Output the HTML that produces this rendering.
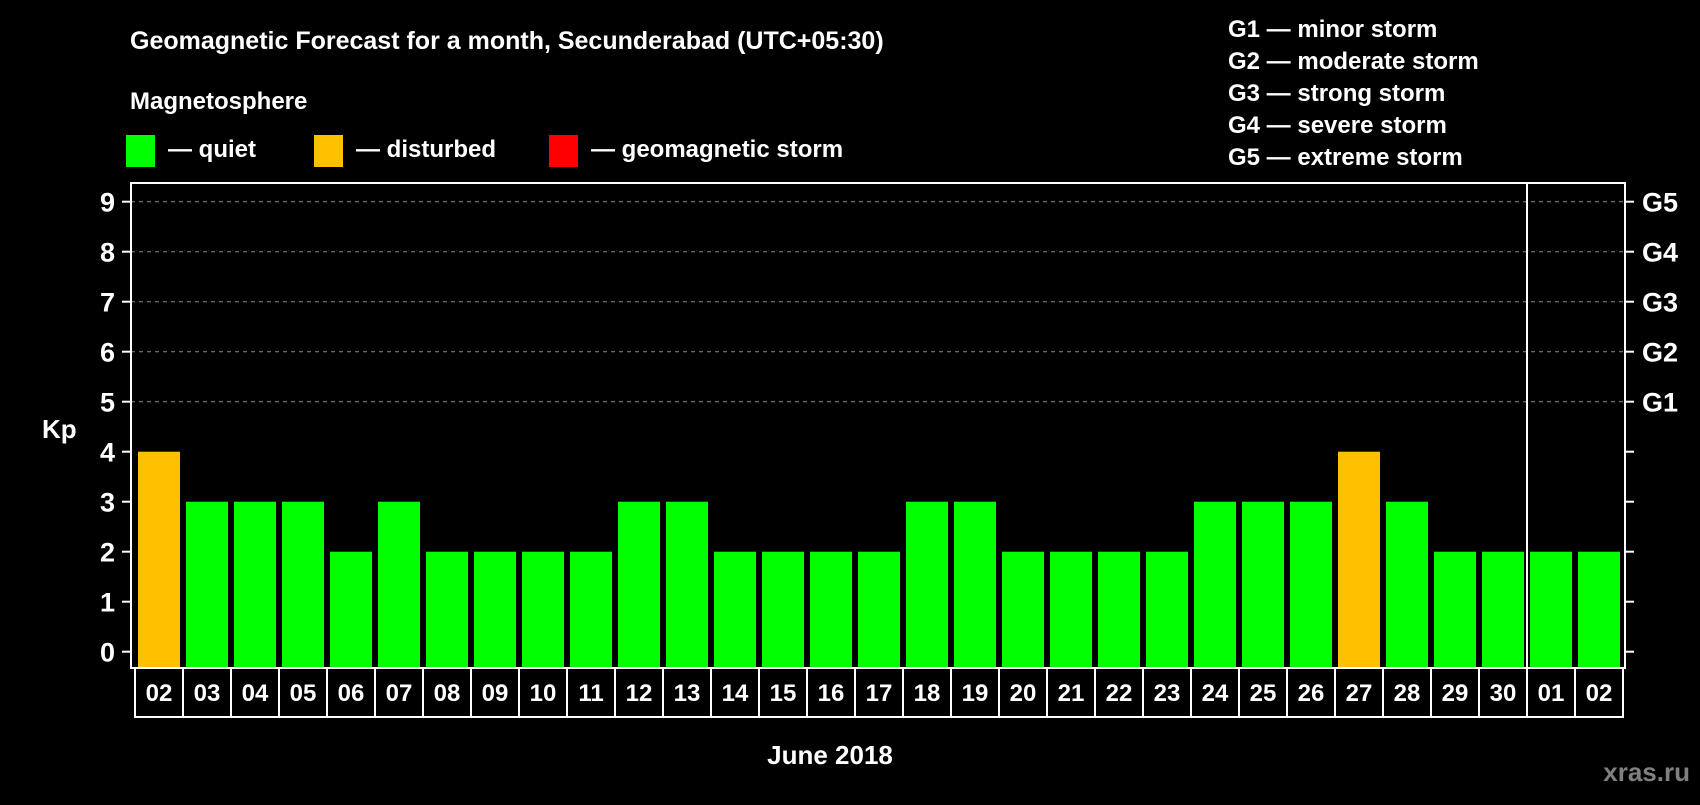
<!DOCTYPE html>
<html><head><meta charset="utf-8"><style>
html,body{margin:0;padding:0;background:#000;}
svg text{font-family:"Liberation Sans",sans-serif;font-weight:bold;fill:#fff;}
</style></head><body>
<svg id="chart" width="1700" height="800" viewBox="0 0 1700 800" xmlns="http://www.w3.org/2000/svg">
<rect width="1700" height="800" fill="#000"/>
<text x="130" y="49" font-size="25">Geomagnetic Forecast for a month, Secunderabad (UTC+05:30)</text>
<text x="130" y="109" font-size="24">Magnetosphere</text>
<g><rect x="126" y="135" width="29" height="32" fill="#00ff00"/><text x="168" y="157" font-size="24">— quiet</text></g>
<g><rect x="314" y="135" width="29" height="32" fill="#ffc000"/><text x="356" y="157" font-size="24">— disturbed</text></g>
<g><rect x="549" y="135" width="29" height="32" fill="#ff0000"/><text x="591" y="157" font-size="24">— geomagnetic storm</text></g>
<g font-size="24">
<text x="1228" y="37">G1 — minor storm</text>
<text x="1228" y="69">G2 — moderate storm</text>
<text x="1228" y="101">G3 — strong storm</text>
<text x="1228" y="133">G4 — severe storm</text>
<text x="1228" y="165">G5 — extreme storm</text>
</g>
<text x="42" y="438" font-size="26">Kp</text>
<g id="grid"></g><g id="bars"></g><g id="axes"></g><g id="xlabels"></g>
<text x="830" y="764" font-size="26" text-anchor="middle">June 2018</text>
<text x="1690" y="781" font-size="26" text-anchor="end" style="fill:#808080">xras.ru</text>
</svg>
<script>
const days = ["02","03","04","05","06","07","08","09","10","11","12","13","14","15","16","17","18","19","20","21","22","23","24","25","26","27","28","29","30","01","02"];
const kpValues = [4,3,3,3,2,3,2,2,2,2,3,3,2,2,2,2,3,3,2,2,2,2,3,3,3,4,3,2,2,2,2];
const yTicks = [0,1,2,3,4,5,6,7,8,9];
const gLabels = ["G1","G2","G3","G4","G5"];
const monthBreak = 29;
const NS="http://www.w3.org/2000/svg";
const L=131,R=1625,T=183,B=668,X0=135,step=48;
function y(v){return 651.7 - v*50;}
function x(i){return X0 + i*step;}
function mk(tag,attrs,parent){const e=document.createElementNS(NS,tag);for(const k in attrs)e.setAttribute(k,attrs[k]);parent.appendChild(e);return e;}
const grid=document.getElementById('grid'),bars=document.getElementById('bars'),axes=document.getElementById('axes'),xl=document.getElementById('xlabels');
yTicks.forEach(v=>{
  if(v>=5){const g=mk('line',{x1:L,x2:R,y1:y(v),y2:y(v),stroke:'#888','stroke-dasharray':'4,4','stroke-width':1},grid);
  
  }
  const t=mk('line',{x1:122,x2:L,y1:y(v),y2:y(v),stroke:'#fff','stroke-width':2},axes);
  
  
  const t2=mk('line',{x1:R,x2:R+9,y1:y(v),y2:y(v),stroke:'#fff','stroke-width':2},axes);
  
  
  const lb=mk('text',{x:115,y:y(v)+10,'font-size':27,'text-anchor':'end'},axes);lb.textContent=v;
  
  
});
gLabels.forEach((g,i)=>{const lb=mk('text',{x:1642,y:y(5+i)+10,'font-size':27},axes);lb.textContent=g;
  
  });
kpValues.forEach((v,i)=>{
  const c=v>=5?'#ff0000':(v>=4?'#ffc000':'#00ff00');
  const r=mk('rect',{x:x(i)+3,y:y(v),width:42,height:B-y(v),fill:c},bars);
  
  
  const lb=mk('text',{x:x(i)+24,y:701,'font-size':24,'text-anchor':'middle'},xl);lb.textContent=days[i];
  
  
  if(i>0){const s=mk('line',{x1:x(i),x2:x(i),y1:B,y2:717,stroke:'#fff','stroke-width':2},xl);
  
  }
});
const fr=mk('rect',{x:L,y:T,width:R-L,height:B-T,fill:'none',stroke:'#fff','stroke-width':2},axes);


const bx=mk('rect',{x:X0,y:B,width:x(days.length)-X0,height:717-B,fill:'none',stroke:'#fff','stroke-width':2},xl);


const mb=mk('line',{x1:x(monthBreak),x2:x(monthBreak),y1:T,y2:B,stroke:'#fff','stroke-width':2},axes);


</script>
</body></html>
